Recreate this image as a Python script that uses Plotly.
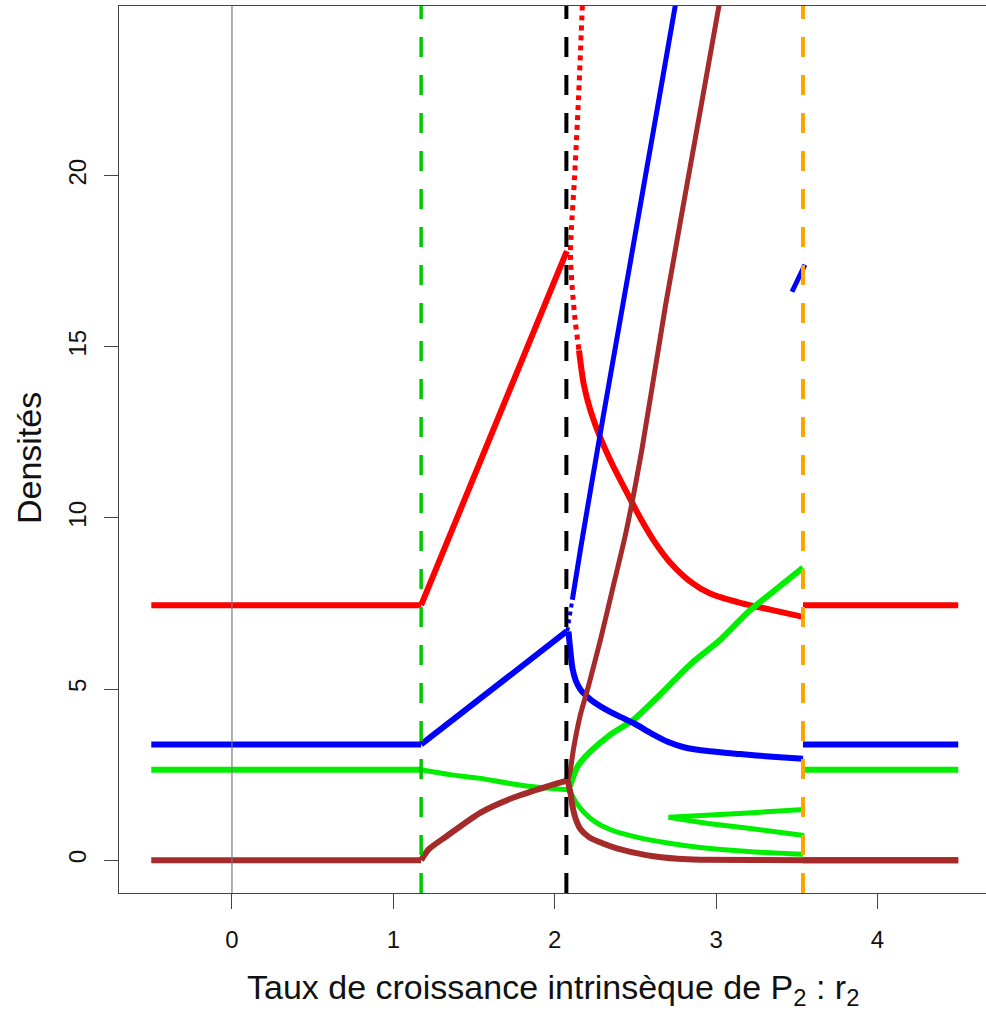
import plotly.graph_objects as go

# Equilibrium densities of the four populations as the intrinsic growth rate r2 varies.
RED = "#FF0000"
BLUE = "#0000FF"
GREEN = "#00EE00"
BROWN = "#A52A2A"

# --- flat regimes (before invasion of P2 and after the upper threshold) ---
r2_left = [-0.5, 1.172]
r2_right = [3.538, 4.5]
red_flat = [7.45, 7.45]
blue_flat = [3.38, 3.38]
green_flat = [2.64, 2.64]
brown_flat = [0.0, 0.0]

# --- coexistence regime between the first two thresholds ---
r2_mid = [1.172, 2.075]
red_mid = [7.45, 17.8]
blue_mid = [3.38, 6.69]

r2_green_mid = [1.172, 1.35, 1.54, 1.72, 1.91, 2.08]
green_mid = [2.64, 2.5, 2.39, 2.24, 2.12, 2.06]

r2_brown_mid = [1.172, 1.22, 1.33, 1.54, 1.745, 1.95, 2.08]
brown_mid = [0.0, 0.32, 0.7, 1.39, 1.83, 2.15, 2.33]

# --- branches beyond the second threshold ---
r2_red_dot = [2.171, 2.147, 2.122, 2.103, 2.097, 2.109, 2.128, 2.15]
red_dot = [24.98, 22.24, 19.9, 18.44, 17.7, 16.68, 15.7, 14.9]

r2_red_hi = [2.15, 2.18, 2.22, 2.283, 2.357, 2.437, 2.53, 2.623, 2.716, 2.84, 2.963, 3.149, 3.335, 3.538]
red_hi = [14.9, 13.9, 13.16, 12.34, 11.56, 10.83, 10.0, 9.27, 8.69, 8.14, 7.79, 7.52, 7.32, 7.11]

r2_blue_dot = [2.078, 2.095, 2.109]
blue_dot = [6.69, 7.2, 7.61]

r2_blue_up = [2.109, 2.159, 2.22, 2.295, 2.376, 2.469, 2.561, 2.654, 2.747]
blue_up = [7.61, 9.07, 10.77, 12.82, 15.0, 17.49, 19.97, 22.46, 24.98]

r2_blue_low = [2.085, 2.097, 2.11, 2.13, 2.16, 2.22, 2.31, 2.4, 2.49, 2.6, 2.7, 2.8, 2.96, 3.15, 3.35, 3.538]
blue_low = [6.68, 6.1, 5.6, 5.25, 4.98, 4.7, 4.42, 4.2, 4.0, 3.7, 3.46, 3.3, 3.18, 3.1, 3.02, 2.96]

r2_blue_isl = [3.47, 3.55]
blue_isl = [16.61, 17.4]

r2_green_up = [2.08, 2.097, 2.14, 2.22, 2.345, 2.487, 2.654, 2.84, 3.026, 3.2, 3.367, 3.538]
green_up = [2.06, 2.21, 2.73, 3.17, 3.67, 4.1, 4.84, 5.72, 6.44, 7.26, 7.9, 8.55]

r2_green_low = [2.08, 2.1, 2.13, 2.18, 2.25, 2.35, 2.5, 2.7, 2.9, 3.2, 3.538]
green_low = [2.06, 1.95, 1.7, 1.4, 1.12, 0.88, 0.68, 0.5, 0.37, 0.25, 0.17]

r2_green_w1 = [2.705, 2.95, 3.2, 3.545]
green_w1 = [1.25, 1.3, 1.38, 1.48]
r2_green_w2 = [2.705, 2.95, 3.2, 3.545]
green_w2 = [1.25, 1.07, 0.93, 0.72]

r2_brown_up = [2.078, 2.097, 2.115, 2.159, 2.208, 2.283, 2.357, 2.44, 2.54, 2.686, 2.903, 3.018]
brown_up = [2.29, 2.64, 3.22, 4.25, 5.07, 6.44, 7.9, 9.55, 12.0, 16.2, 21.94, 24.98]

r2_brown_low = [2.08, 2.1, 2.11, 2.13, 2.16, 2.21, 2.28, 2.38, 2.49, 2.6, 2.76, 2.9, 3.538, 4.5]
brown_low = [2.33, 1.9, 1.57, 1.2, 0.9, 0.68, 0.52, 0.35, 0.22, 0.12, 0.04, 0.01, 0.0, 0.0]

# thresholds on r2 (position, colour, dash style, width)
v_pos = [0.0, 1.172, 2.072, 3.538]
v_col = ["#7a7a7a", "#00C800", "#000000", "#FFA500"]
v_dash = ["solid", "20px,18px", "20px,18px", "20px,18px"]
v_width = [1.2, 3.5, 4, 4]

x_ticks = [0, 1, 2, 3, 4]
y_ticks = [0, 5, 10, 15, 20]

fig = go.Figure()


def add(x, y, color, width=6, dash="solid", smooth=False):
    line = dict(color=color, width=width, dash=dash)
    if smooth:
        line.update(shape="spline", smoothing=0.7)
    fig.add_trace(go.Scatter(x=x, y=y, mode="lines", line=line,
                             hoverinfo="skip", showlegend=False))


# flat parts
add(r2_left, brown_flat, BROWN)
add(r2_right, brown_flat, BROWN)
add(r2_left, green_flat, GREEN)
add(r2_right, green_flat, GREEN)
add(r2_left, blue_flat, BLUE)
add(r2_right, blue_flat, BLUE)
add(r2_left, red_flat, RED)
add(r2_right, red_flat, RED)

# middle regime
add(r2_mid, red_mid, RED)
add(r2_mid, blue_mid, BLUE)
add(r2_green_mid, green_mid, GREEN, 5, smooth=True)
add(r2_brown_mid, brown_mid, BROWN, smooth=True)

# branches past the second threshold
add(r2_red_dot, red_dot, RED, 5, "dot", smooth=True)
add(r2_red_hi, red_hi, RED, smooth=True)
add(r2_green_up, green_up, GREEN, smooth=True)
add(r2_green_low, green_low, GREEN, 5, smooth=True)
add(r2_green_w1, green_w1, GREEN, 5)
add(r2_green_w2, green_w2, GREEN, 5)
add(r2_blue_dot, blue_dot, BLUE, 4, "dot")
add(r2_blue_up, blue_up, BLUE, 5, smooth=True)
add(r2_blue_low, blue_low, BLUE, smooth=True)
add(r2_blue_isl, blue_isl, BLUE, 5)
add(r2_brown_low, brown_low, BROWN, smooth=True)
add(r2_brown_up, brown_up, BROWN, 5, smooth=True)

for xv, c, d, w in zip(v_pos, v_col, v_dash, v_width):
    fig.add_shape(type="line", xref="x", yref="paper", x0=xv, x1=xv, y0=0, y1=1,
                  line=dict(color=c, width=w, dash=d), layer="above")

FONT = "Liberation Sans, Arial, sans-serif"

fig.update_layout(
    width=986, height=1014,
    margin=dict(l=119, r=0, t=6, b=121),
    plot_bgcolor="white", paper_bgcolor="white",
    font=dict(family=FONT, color="#111111"),
    xaxis=dict(range=[-0.7, 4.672], tickvals=x_ticks, ticks="outside", ticklen=15,
               tickwidth=1, tickcolor="#444444", showline=True, linecolor="#444444",
               linewidth=1, mirror=True, showgrid=False, zeroline=False,
               tickfont=dict(size=24, family=FONT, color="#111111"),
               ticklabelstandoff=10),
    yaxis=dict(range=[-0.96, 24.96], tickvals=y_ticks, ticks="outside", ticklen=14,
               tickwidth=1, tickcolor="#444444", showline=True, linecolor="#444444",
               linewidth=1, mirror=False, showgrid=False, zeroline=False,
               tickangle=-90, tickfont=dict(size=24, family=FONT, color="#111111"),
               ticklabelstandoff=8),
    annotations=[
        dict(text="Taux de croissance intrinsèque de P<sub>2</sub> : r<sub>2</sub>",
             xref="paper", yref="paper", x=0.5, y=-0.109, xanchor="center",
             yanchor="middle", showarrow=False, font=dict(size=34, family=FONT, color="#111111")),
        dict(text="Densités", xref="paper", yref="paper", x=-0.103, y=0.49,
             xanchor="center", yanchor="middle", textangle=-90, showarrow=False,
             font=dict(size=34, family=FONT, color="#111111")),
    ],
)

fig.write_html("out.html")
